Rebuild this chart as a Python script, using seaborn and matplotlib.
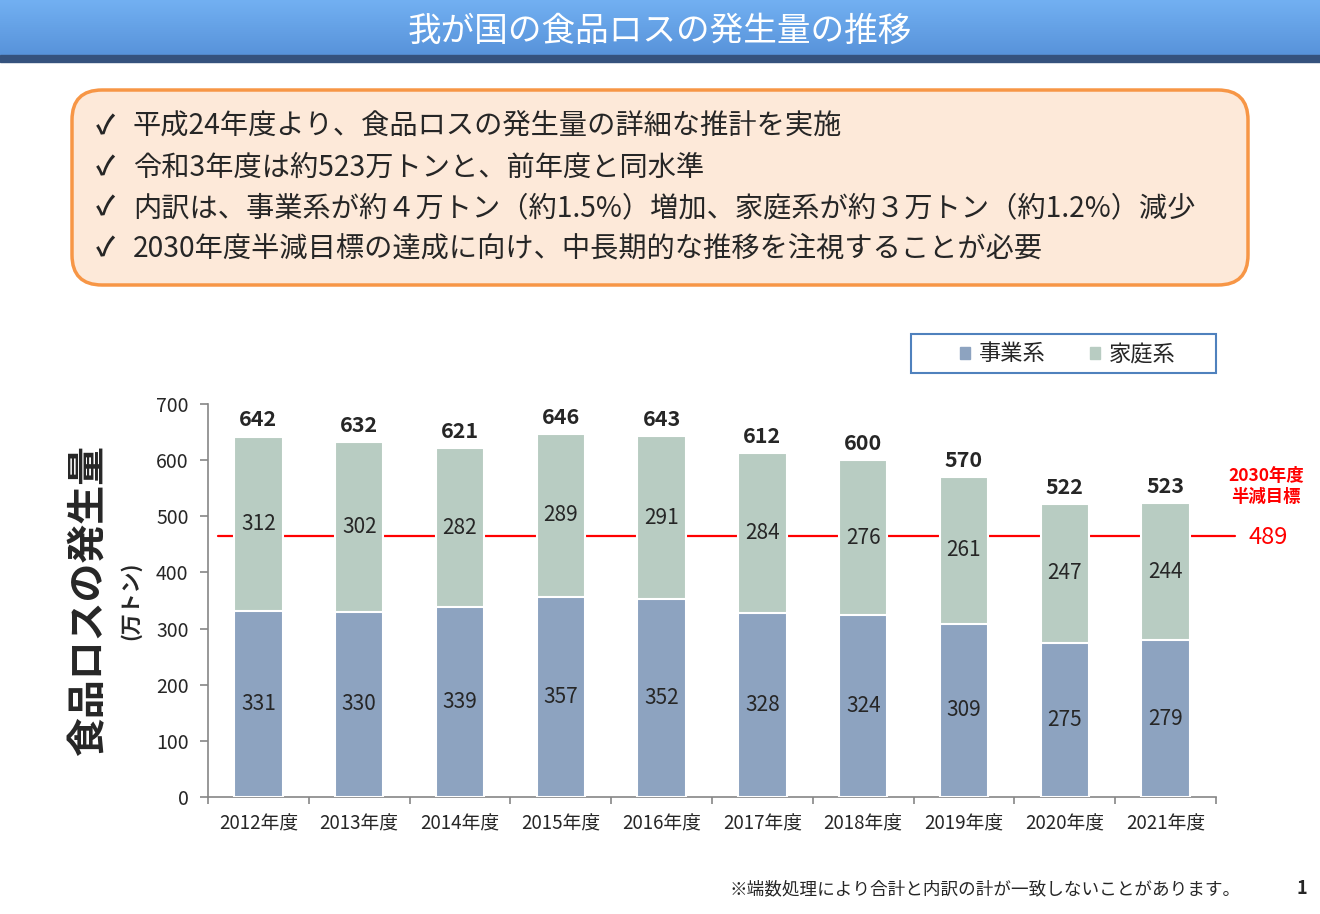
import matplotlib
matplotlib.use("Agg")
import matplotlib.pyplot as plt
import seaborn as sns
import numpy as np
import pandas as pd
from matplotlib.patches import Rectangle, FancyBboxPatch, Patch
from matplotlib.colors import LinearSegmentedColormap

# data
years = ["2012年度", "2013年度", "2014年度", "2015年度", "2016年度",
         "2017年度", "2018年度", "2019年度", "2020年度", "2021年度"]
business = [331, 330, 339, 357, 352, 328, 324, 309, 275, 279]
household = [312, 302, 282, 289, 291, 284, 276, 261, 247, 244]
totals = [642, 632, 621, 646, 643, 612, 600, 570, 522, 523]
target_label = 489
target_line = 465   # where the red line actually sits in the picture

title = "我が国の食品ロスの発生量の推移"
points = [
    "平成24年度より、食品ロスの発生量の詳細な推計を実施",
    "令和3年度は約523万トンと、前年度と同水準",
    "内訳は、事業系が約４万トン（約1.5%）増加、家庭系が約３万トン（約1.2%）減少",
    "2030年度半減目標の達成に向け、中長期的な推移を注視することが必要",
]
footnote = "※端数処理により合計と内訳の計が一致しないことがあります。"

c_bus = "#8DA3C0"
c_house = "#B8CCC2"

sns.set_theme(style="white")
plt.rcParams['font.family'] = ['Noto Sans CJK JP', 'DejaVu Sans']

fig = plt.figure(figsize=(13.2, 9.14), dpi=100)

# background layer in pixel coordinates
bg = fig.add_axes([0, 0, 1, 1])
grad = np.linspace(0, 1, 60).reshape(-1, 1)
cmap = LinearSegmentedColormap.from_list("title", ["#72B0F2", "#5893DA"])
bg.imshow(grad, extent=(0, 1320, 55, 0), cmap=cmap, aspect='auto')
bg.add_patch(Rectangle((0, 55), 1320, 7, color="#35527D"))
bg.text(660, 31, title, color="white", fontsize=24.2, ha='center', va='center')

bg.add_patch(FancyBboxPatch((102, 120), 1116, 135, boxstyle="round,pad=30",
                            fc="#FDE9D9", ec="#F79646", lw=2.5))
for i, line in enumerate(points):
    y = 127 + i * 40.5
    bg.text(105, y, "✓", fontsize=19, fontweight='bold', ha='center', va='center')
    bg.text(133, y, line, fontsize=20.3, ha='left', va='center')

bg.text(89, 600, "食品ロスの発生量", rotation=90, fontsize=28, fontweight='bold',
        ha='center', va='center')
bg.text(130, 601, "(万トン)", rotation=90, fontsize=15, fontweight='bold',
        ha='center', va='center')

bg.text(1266, 476, "2030年度", color="red", fontsize=12.5, fontweight='bold',
        ha='center', va='center')
bg.text(1266, 497, "半減目標", color="red", fontsize=12.5, fontweight='bold',
        ha='center', va='center')
bg.text(1268, 538, str(target_label), color="red", fontsize=17,
        ha='center', va='center')

bg.add_patch(Rectangle((911, 334), 305, 39, fc="white", ec="#4F81BD", lw=1.5))

bg.text(730, 889, footnote, fontsize=12.7, ha='left', va='center')
bg.text(1302, 888, "1", fontsize=13, fontweight='bold', ha='center', va='center')

bg.set_xlim(0, 1320)
bg.set_ylim(914, 0)
bg.axis('off')

# chart
ax = fig.add_axes([208 / 1320, 1 - 797 / 914, 1008 / 1320, 393 / 914])
ax.set_facecolor('none')
df = pd.DataFrame({"year": years, "business": business, "total": totals})

sns.barplot(data=df, x="year", y="total", color=c_house, saturation=1, width=0.48,
            edgecolor="white", linewidth=1.5, ax=ax, zorder=2)
sns.barplot(data=df, x="year", y="business", color=c_bus, saturation=1, width=0.48,
            edgecolor="white", linewidth=1.5, ax=ax, zorder=3)

ax.plot([-0.4, 9.69], [target_line, target_line], color="red", lw=1.6,
        zorder=1, clip_on=False)

for i in range(len(years)):
    ax.text(i, business[i] / 2, str(business[i]), ha='center', va='center',
            fontsize=15, zorder=4)
    ax.text(i, (business[i] + totals[i]) / 2, str(household[i]), ha='center',
            va='center', fontsize=15, zorder=4)
    ax.annotate(str(totals[i]), (i, totals[i]), xytext=(0, 12),
                textcoords='offset points', ha='center', va='center',
                fontsize=15.5, fontweight='bold')

ax.set_xlim(-0.5, 9.5)
ax.set_ylim(0, 700)
ax.set_yticks(range(0, 701, 100))
ax.set_xticks(range(len(years)))
ax.set_xticklabels(years)
ax.set_xticks(np.arange(-0.5, 10, 1), minor=True)
ax.set_xlabel("")
ax.set_ylabel("")
ax.tick_params(axis='x', which='major', length=0, pad=12, labelsize=13.5)
ax.tick_params(axis='x', which='minor', length=5, width=1.2, color="#868686",
               direction='out', bottom=True)
ax.tick_params(axis='y', length=6, width=1.2, color="#868686", direction='out',
               left=True, pad=8, labelsize=14)
for s in ["top", "right"]:
    ax.spines[s].set_visible(False)
for s in ["left", "bottom"]:
    ax.spines[s].set_color("#868686")
    ax.spines[s].set_linewidth(1.2)

handles = [Patch(color=c_bus, label="事業系"), Patch(color=c_house, label="家庭系")]
fig.legend(handles=handles, loc='center', bbox_to_anchor=(1068 / 1320, 1 - 354 / 914),
           ncol=2, frameon=False, fontsize=16, handlelength=0.45, handleheight=0.45,
           handletextpad=0.4, columnspacing=2.0)

fig.savefig("out.png", dpi=100)
